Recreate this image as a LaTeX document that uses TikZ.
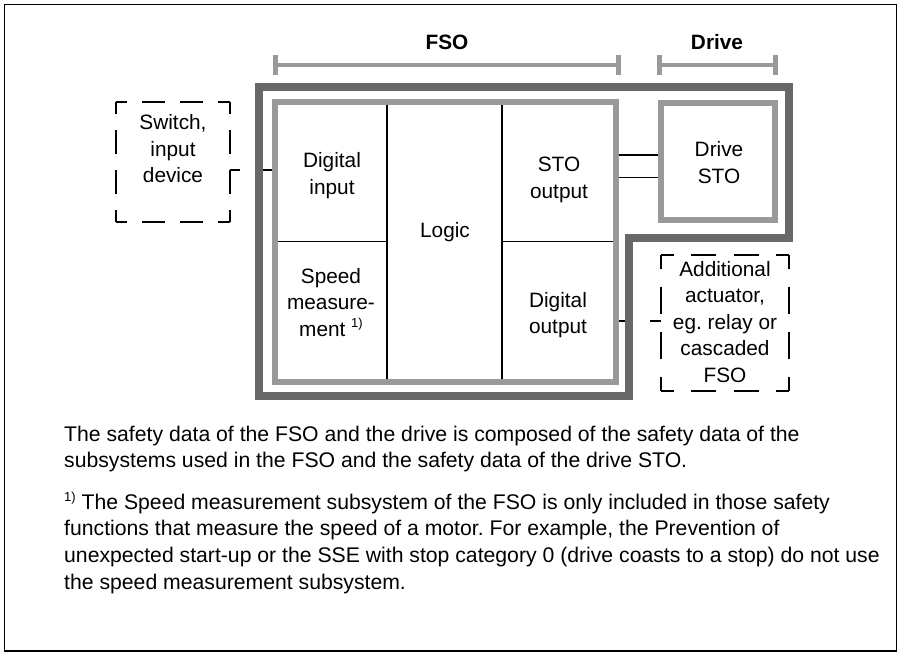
\documentclass[tikz,border=0pt]{standalone}
\usepackage{fontspec}
\setmainfont{Liberation Sans}
\frenchspacing
\definecolor{lgray}{HTML}{999999}
\definecolor{dgray}{HTML}{686868}
\newcommand\mlines[1]{\begin{tabular}[t]{@{}c@{}}#1\end{tabular}}
\newcommand\llines[1]{\begin{tabular}[t]{@{}l@{}}#1\end{tabular}}
\newcommand\supone{\raisebox{9pt}{\fontsize{13}{13}\selectfont 1)}}
\tikzset{
  lbl/.style={anchor=base, inner sep=0, font=\fontsize{20.8}{26.5}\selectfont\frenchspacing},
  para/.style={anchor=base west, inner sep=0, font=\fontsize{21.2}{26.7}\selectfont\frenchspacing},
  cellline/.style={line width=1.3pt, black},
  conn/.style={line width=1.2pt, black},
  graybox/.style={draw=lgray, line width=6pt, inner sep=0, fill=none},
  ghost/.style={inner sep=0, outer sep=0},
  bar/.style={lgray, line width=4pt},
  tick/.style={lgray, line width=5pt},
  frameline/.style={dgray, line width=8pt, line join=miter},
  dsh/.style={line width=2pt, black}
}
\begin{document}
\begin{tikzpicture}[x=1pt,y=-1pt]
\useasboundingbox (0,0) rectangle (902,655);
\draw[line width=1.2pt] (4.5,4.5) rectangle (896.5,651);

% brackets
\draw[bar] (275,65) -- (619,65);
\draw[tick] (275.5,55) -- (275.5,75);
\draw[tick] (618.5,55) -- (618.5,75);
\draw[bar] (659,65) -- (776,65);
\draw[tick] (659.5,55) -- (659.5,75);
\draw[tick] (775.5,55) -- (775.5,75);
\node[lbl, font=\fontsize{20.8}{26.5}\selectfont\bfseries] (fsolbl) at (447,50) {FSO};
\node[lbl, font=\fontsize{20.8}{26.5}\selectfont\bfseries] (drvlbl) at (717,50) {Drive};

% outer dark frame
\draw[frameline] (259,87.5) -- (789,87.5) -- (789,237.5) -- (629,237.5) -- (629,396) -- (259,396) -- cycle;

% FSO box and drive STO box
\node[graybox, minimum width=340.5pt, minimum height=279.5pt] (fso) at (445.25,242.25) {};
\node[graybox, minimum width=114pt, minimum height=117.5pt] (drv) at (717.5,161.75) {};

% cell lines
\draw[cellline] (387,105.5) -- (387,379);
\draw[cellline] (502,105.5) -- (502,379);
\draw[cellline] (278,241.5) -- (387,241.5);
\draw[cellline] (502,241.5) -- (612.5,241.5);

% cell texts
\node[lbl] (din) at (332,168) {\mlines{Digital\\input}};
\node[lbl] (logic) at (445,237) {Logic};
\node[lbl] (stoout) at (559,172) {\mlines{STO\\output}};
\node[lbl] (spd) at (331,283) {\mlines{Speed\\measure-\\ment \supone}};
\node[lbl] (dout) at (558,307) {\mlines{Digital\\output}};
\node[lbl] (drvtxt) at (719,157) {\mlines{Drive\\STO}};

% switch box (dashed)
\node[ghost, minimum width=113.5pt, minimum height=120pt] (sw) at (172.75,162.5) {};
\draw[dsh, dash pattern=on 22.7pt off 15.13pt, dash phase=11.35pt] (sw.north west) -- (sw.north east);
\draw[dsh, dash pattern=on 22.7pt off 15.13pt, dash phase=11.35pt] (sw.south west) -- (sw.south east);
\draw[dsh, dash pattern=on 24pt off 16pt, dash phase=12pt] (sw.north west) -- (sw.south west);
\draw[dsh, dash pattern=on 24pt off 16pt, dash phase=12pt] (sw.north east) -- (sw.south east);
\node[lbl] (swtxt) at (173,130) {\mlines{Switch,\\input\\device}};

% additional actuator box (dashed)
\node[ghost, minimum width=128pt, minimum height=136pt] (act) at (725,323) {};
\draw[dsh, dash pattern=on 25.6pt off 17.07pt, dash phase=12.8pt] (act.north west) -- (act.north east);
\draw[dsh, dash pattern=on 25.6pt off 17.07pt, dash phase=12.8pt] (act.south west) -- (act.south east);
\draw[dsh, dash pattern=on 27.2pt off 18.13pt, dash phase=13.6pt] (act.north west) -- (act.south west);
\draw[dsh, dash pattern=on 27.2pt off 18.13pt, dash phase=13.6pt] (act.north east) -- (act.south east);
\node[lbl] (acttxt) at (725,276) {\mlines{Additional\\actuator,\\eg. relay or\\cascaded\\FSO}};

% connectors
\coordinate (swgapa) at (240,170);
\coordinate (swgapb) at (263,170);
\draw[conn] (sw.east |- swgapa) -- (swgapa);
\draw[conn] (swgapb) -- (fso.west |- swgapb);
\draw[conn] (fso.east |- 0,155) -- (drv.west |- 0,155);
\draw[conn] (fso.east |- 0,177.5) -- (drv.west |- 0,177.5);
\coordinate (actgapa) at (625,321);
\coordinate (actgapb) at (650,321);
\draw[conn] (fso.east |- actgapa) -- (actgapa);
\draw[conn] (actgapb) -- (act.west |- actgapb);

% bottom text
\node[para] (p1) at (64,441) {\llines{The safety data of the FSO and the drive is composed of the safety data of the\\subsystems used in the FSO and the safety data of the drive STO.}};
\node[para] (p2) at (64,509) {\llines{\raisebox{8pt}{\fontsize{13}{13}\selectfont 1)} The Speed measurement subsystem of the FSO is only included in those safety\\functions that measure the speed of a motor. For example, the Prevention of\\unexpected start-up or the SSE with stop category 0 (drive coasts to a stop) do not use\\the speed measurement subsystem.}};
\end{tikzpicture}
\end{document}
